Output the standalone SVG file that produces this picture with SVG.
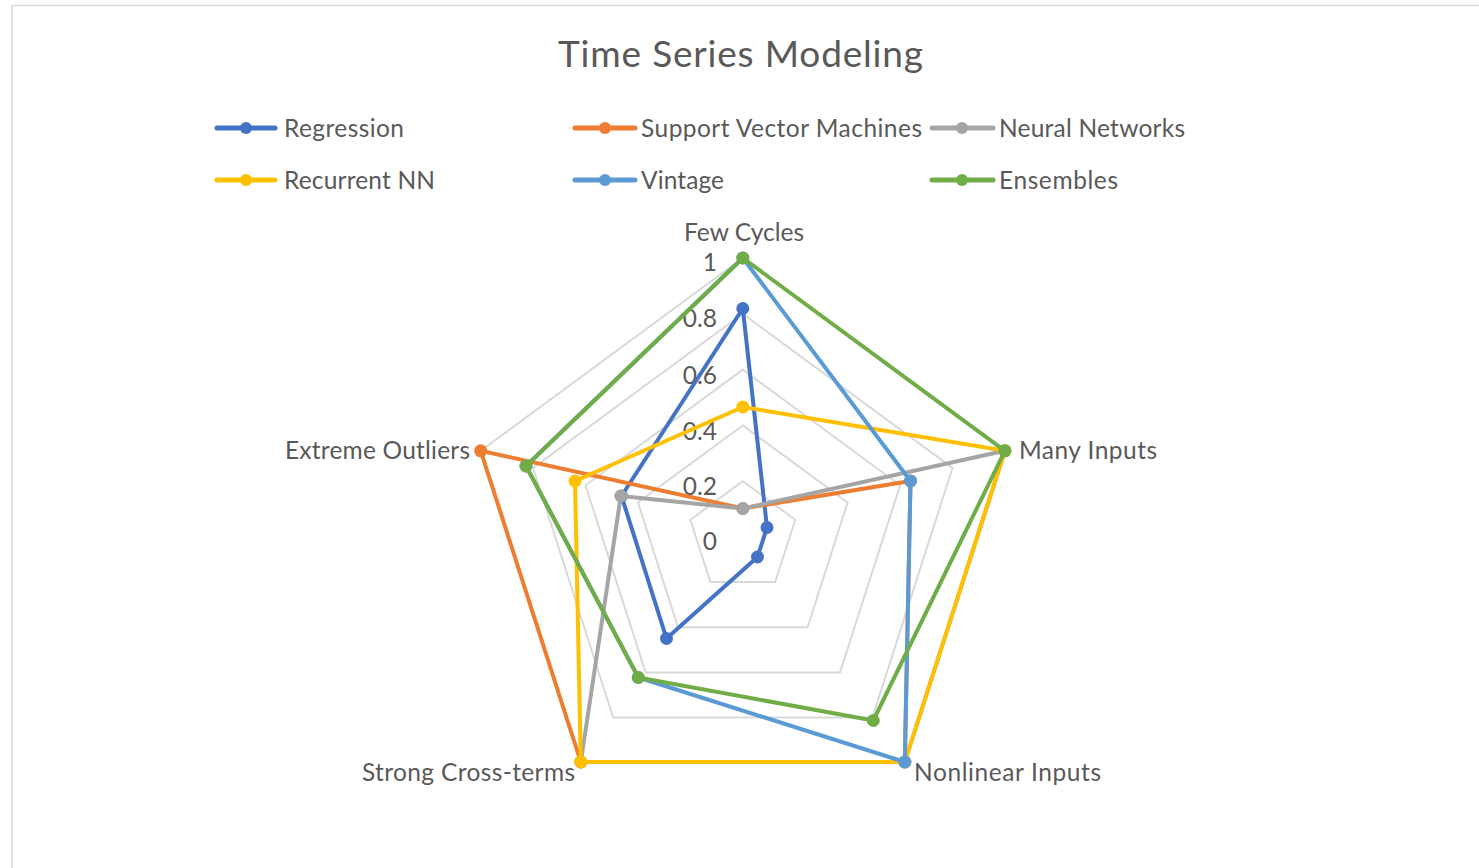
<svg xmlns="http://www.w3.org/2000/svg" width="1479" height="868" viewBox="0 0 1479 868">
  <style>
    .txt { font-family: Lato, "Liberation Sans", "DejaVu Sans", sans-serif; fill: #595959; }
    .title { font-size: 37px; }
    .lbl { font-size: 24.5px; }
    .grid { fill: none; stroke: #d9d9d9; stroke-width: 2; stroke-linejoin: miter; }
    .series { fill: none; stroke-width: 4; stroke-linejoin: round; stroke-linecap: round; }
    .leg { stroke-width: 5; stroke-linecap: round; }
  </style>
  <rect x="0" y="0" width="1479" height="868" fill="#ffffff"/>
  <rect id="chart-border" x="12" y="5.5" width="1520" height="920" fill="none" stroke="#d9d9d9" stroke-width="1.5"/>

  <text id="title" class="txt title" x="558" y="67" textLength="365">Time Series Modeling</text>

  <g id="grid">
    <polygon class="grid" points="742.8,481.2 795.2,519.8 775.2,582.1 710.4,582.1 690.4,519.8"/>
    <polygon class="grid" points="742.8,425.4 847.6,502.5 807.6,627.3 678,627.3 638,502.5"/>
    <polygon class="grid" points="742.8,369.6 900.1,485.3 840,672.4 645.6,672.4 585.5,485.3"/>
    <polygon class="grid" points="742.8,313.8 952.5,468 872.4,717.6 613.2,717.6 533.1,468"/>
    <polygon class="grid" points="742.8,258 1004.9,450.8 904.8,762.7 580.8,762.7 480.7,450.8"/>
  </g>

  <g id="tick-labels" class="txt lbl" text-anchor="end">
    <text x="717" y="271">1</text>
    <text x="717" y="327">0.8</text>
    <text x="717" y="384">0.6</text>
    <text x="717" y="440">0.4</text>
    <text x="717" y="495">0.2</text>
    <text x="717" y="550">0</text>
  </g>

  <g id="axis-labels" class="txt lbl">
    <text id="ax-few-cycles" x="684" y="241" textLength="120">Few Cycles</text>
    <text id="ax-many-inputs" x="1019" y="459" textLength="138">Many Inputs</text>
    <text id="ax-nonlinear" x="914" y="781" textLength="187">Nonlinear Inputs</text>
    <text id="ax-cross-terms" x="362" y="781" textLength="213">Strong Cross-terms</text>
    <text id="ax-outliers" x="285" y="458.5" textLength="185">Extreme Outliers</text>
  </g>

  <g id="connectors">
    <g id="s-regression" stroke="#4472C4" fill="#4472C4">
      <polygon class="series" points="742.8,308.5 767,527.5 757.5,557 666.5,638.5 621.5,496"/>
      <circle cx="742.8" cy="308.5" r="6.5" stroke="none"/>
      <circle cx="767" cy="527.5" r="6.5" stroke="none"/>
      <circle cx="757.5" cy="557" r="6.5" stroke="none"/>
      <circle cx="666.5" cy="638.5" r="6.5" stroke="none"/>
      <circle cx="621.5" cy="496" r="6.5" stroke="none"/>
    </g>
    <g id="s-svm" stroke="#ED7D31" fill="#ED7D31">
      <polygon class="series" points="742.8,508.5 910.5,481 904.8,762 580.8,762 480.7,450.8"/>
      <circle cx="742.8" cy="508.5" r="6.5" stroke="none"/>
      <circle cx="910.5" cy="481" r="6.5" stroke="none"/>
      <circle cx="904.8" cy="762" r="6.5" stroke="none"/>
      <circle cx="580.8" cy="762" r="6.5" stroke="none"/>
      <circle cx="480.7" cy="450.8" r="6.5" stroke="none"/>
    </g>
    <g id="s-nn" stroke="#A5A5A5" fill="#A5A5A5">
      <polygon class="series" points="742.8,508.5 1004.9,450.8 904.8,762 580.8,762 620.8,496"/>
      <circle cx="742.8" cy="508.5" r="6.5" stroke="none"/>
      <circle cx="1004.9" cy="450.8" r="6.5" stroke="none"/>
      <circle cx="904.8" cy="762" r="6.5" stroke="none"/>
      <circle cx="580.8" cy="762" r="6.5" stroke="none"/>
      <circle cx="620.8" cy="496" r="6.5" stroke="none"/>
    </g>
    <g id="s-rnn" stroke="#FFC000" fill="#FFC000">
      <polygon class="series" points="742.8,407 1004.9,450.8 904.8,762 580.8,762 575,481"/>
      <circle cx="742.8" cy="407" r="6.5" stroke="none"/>
      <circle cx="1004.9" cy="450.8" r="6.5" stroke="none"/>
      <circle cx="904.8" cy="762" r="6.5" stroke="none"/>
      <circle cx="580.8" cy="762" r="6.5" stroke="none"/>
      <circle cx="575" cy="481" r="6.5" stroke="none"/>
    </g>
    <g id="s-vintage" stroke="#5B9BD5" fill="#5B9BD5">
      <polygon class="series" points="742.8,258 910.5,481 904.8,762 638.3,677.5 526,466"/>
      <circle cx="742.8" cy="258" r="6.5" stroke="none"/>
      <circle cx="910.5" cy="481" r="6.5" stroke="none"/>
      <circle cx="904.8" cy="762" r="6.5" stroke="none"/>
      <circle cx="638.3" cy="677.5" r="6.5" stroke="none"/>
      <circle cx="526" cy="466" r="6.5" stroke="none"/>
    </g>
    <g id="s-ensembles" stroke="#70AD47" fill="#70AD47">
      <polygon class="series" points="742.8,258 1004.9,450.8 873.3,720.5 638.3,677.5 526,466"/>
      <circle cx="742.8" cy="258" r="6.5" stroke="none"/>
      <circle cx="1004.9" cy="450.8" r="6.5" stroke="none"/>
      <circle cx="873.3" cy="720.5" r="6.5" stroke="none"/>
      <circle cx="638.3" cy="677.5" r="6.5" stroke="none"/>
      <circle cx="526" cy="466" r="6.5" stroke="none"/>
    </g>
  </g>

  <g id="legend">
    <g id="leg-regression">
      <line class="leg" x1="217" y1="128" x2="275" y2="128" stroke="#4472C4"/>
      <circle cx="246" cy="128" r="6" fill="#4472C4"/>
      <text class="txt lbl" x="284" y="137" textLength="120">Regression</text>
    </g>
    <g id="leg-svm">
      <line class="leg" x1="575" y1="128" x2="635" y2="128" stroke="#ED7D31"/>
      <circle cx="605" cy="128" r="6" fill="#ED7D31"/>
      <text class="txt lbl" x="641" y="137" textLength="281">Support Vector Machines</text>
    </g>
    <g id="leg-nn">
      <line class="leg" x1="932" y1="128" x2="993" y2="128" stroke="#A5A5A5"/>
      <circle cx="962" cy="128" r="6" fill="#A5A5A5"/>
      <text class="txt lbl" x="999" y="137" textLength="186">Neural Networks</text>
    </g>
    <g id="leg-rnn">
      <line class="leg" x1="217" y1="180" x2="275" y2="180" stroke="#FFC000"/>
      <circle cx="246" cy="180" r="6" fill="#FFC000"/>
      <text class="txt lbl" x="284" y="189" textLength="151">Recurrent NN</text>
    </g>
    <g id="leg-vintage">
      <line class="leg" x1="575" y1="180" x2="635" y2="180" stroke="#5B9BD5"/>
      <circle cx="605" cy="180" r="6" fill="#5B9BD5"/>
      <text class="txt lbl" x="641" y="189" textLength="83">Vintage</text>
    </g>
    <g id="leg-ensembles">
      <line class="leg" x1="932" y1="180" x2="993" y2="180" stroke="#70AD47"/>
      <circle cx="962" cy="180" r="6" fill="#70AD47"/>
      <text class="txt lbl" x="999" y="189" textLength="119">Ensembles</text>
    </g>
  </g>
</svg>
